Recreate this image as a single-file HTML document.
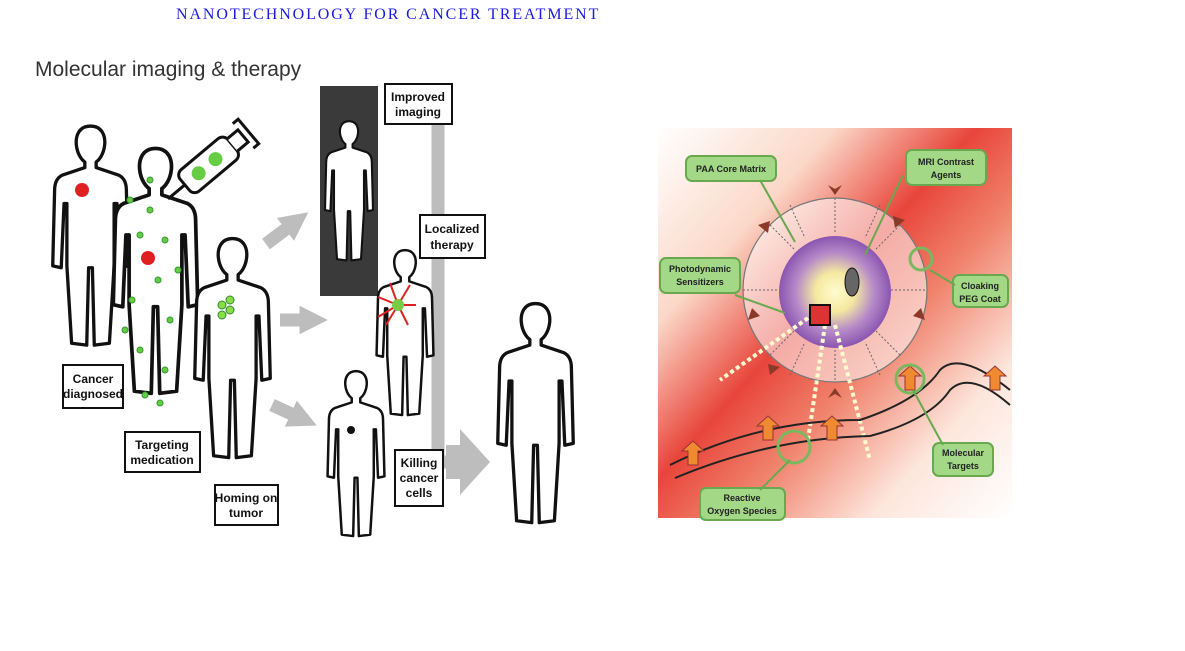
<!DOCTYPE html>
<html><head><meta charset="utf-8"><style>
body{margin:0;background:#fff;width:1185px;height:651px;overflow:hidden;position:relative}
.t{position:absolute;left:176px;top:6px;font:16px "Liberation Serif",serif;color:#1a1adf;letter-spacing:1.9px;white-space:nowrap}
</style></head><body>
<div class="t">NANOTECHNOLOGY FOR CANCER TREATMENT</div>
<svg width="1185" height="651" style="position:absolute;left:0;top:0">
<defs>
<symbol id="p" viewBox="-45 0 90 240" overflow="visible">
<path d="M0 2 C12 2 16 12 15 22 C14 32 9 38 6 40 L6 46 L30 54 Q38 58 38 70 L40 150 L31 152 L28 84 L25 84 L25 150 L20 232 L4 234 L2 152 L-2 152 L-4 234 L-20 232 L-25 150 L-25 84 L-28 84 L-31 152 L-40 150 L-38 70 Q-38 58 -30 54 L-6 46 L-6 40 C-9 38 -14 32 -15 22 C-16 12 -12 2 0 2 Z" fill="#fff" stroke="#111" stroke-width="3.5" stroke-linejoin="round"/>
</symbol>
<radialGradient id="core" cx="0.5" cy="0.5" r="0.5"><stop offset="0" stop-color="#fffbd0"/><stop offset="0.35" stop-color="#f5e9a0"/><stop offset="0.7" stop-color="#b58ac8"/><stop offset="1" stop-color="#8b55b0"/></radialGradient>
<linearGradient id="band" x1="0" y1="0" x2="1" y2="1"><stop offset="0" stop-color="#fff"/><stop offset="0.25" stop-color="#fbd8c8"/><stop offset="0.45" stop-color="#e8453a"/><stop offset="0.6" stop-color="#f0836d"/><stop offset="0.8" stop-color="#fde6dc"/><stop offset="1" stop-color="#fff"/></linearGradient>
<marker id="ah" viewBox="0 0 10 10" refX="2" refY="5" markerWidth="2.2" markerHeight="2.6" orient="auto"><path d="M0 0L10 5L0 10z" fill="#bdbdbd"/></marker>
</defs>
<text x="35" y="76" font-family="Liberation Sans,sans-serif" font-size="21" fill="#333">Molecular imaging &amp; therapy</text>
<g stroke="#bdbdbd" stroke-width="13" fill="none">
<path d="M438 125V462H450"/>
<path d="M266 244L290 226" marker-end="url(#ah)"/>
<path d="M280 320H305" marker-end="url(#ah)"/>
<path d="M272 405L296 416" marker-end="url(#ah)"/>
</g>
<path d="M446 445h14v-16l30 33-30 33v-16h-14z" fill="#bdbdbd"/>
<rect x="320" y="86" width="58" height="210" fill="#3a3a3a"/>
<use href="#p" x="322" y="92" width="54" height="200"/>
<circle cx="345" cy="170" r="5" fill="#fff"/>
<use href="#p" x="48" y="115" width="85" height="245"/>
<circle cx="82" cy="190" r="7" fill="#e02020"/>
<use href="#p" x="108" y="128" width="95" height="290"/>
<circle cx="148" cy="258" r="7" fill="#e02020"/>
<g fill="#6c4" stroke="#393">
<circle cx="130" cy="200" r="3"/><circle cx="150" cy="210" r="3"/><circle cx="165" cy="240" r="3"/><circle cx="140" cy="235" r="3"/><circle cx="158" cy="280" r="3"/><circle cx="132" cy="300" r="3"/><circle cx="170" cy="320" r="3"/><circle cx="140" cy="350" r="3"/><circle cx="165" cy="370" r="3"/><circle cx="145" cy="395" r="3"/><circle cx="125" cy="330" r="3"/><circle cx="178" cy="270" r="3"/><circle cx="150" cy="180" r="3"/><circle cx="160" cy="403" r="3"/>
</g>
<g transform="rotate(-40 210 165)"><rect x="178" y="150" width="62" height="28" rx="7" fill="#fff" stroke="#111" stroke-width="3"/><circle cx="196" cy="164" r="7" fill="#6c4"/><circle cx="218" cy="164" r="7" fill="#6c4"/><path d="M240 156h14v16h-14M254 148h7v32h-7M178 164h-22" stroke="#111" stroke-width="3" fill="#fff"/></g>
<use href="#p" x="190" y="205" width="85" height="290"/>
<g fill="#8d4" stroke="#383"><circle cx="222" cy="305" r="4"/><circle cx="230" cy="310" r="4"/><circle cx="222" cy="315" r="4"/><circle cx="230" cy="300" r="4"/></g>
<use href="#p" x="373" y="234" width="64" height="200"/>
<g stroke="#d22" stroke-width="2"><path d="M398 305l-20-8M398 305l-20 12M398 305l-8-22M398 305l12-20M398 305l18 0M398 305l10 20M398 305l-12 20"/></g>
<circle cx="398" cy="305" r="6" fill="#7c4"/>
<use href="#p" x="324" y="355" width="64" height="200"/>
<circle cx="351" cy="430" r="4" fill="#111"/>
<use href="#p" x="493" y="280" width="85" height="270"/>
<g font-family="Liberation Sans,sans-serif" font-size="12" font-weight="bold" text-anchor="middle" fill="#111">
<rect x="385" y="84" width="67" height="40" fill="#fff" stroke="#111" stroke-width="2"/><text x="418" y="101">Improved</text><text x="418" y="116">imaging</text>
<rect x="420" y="215" width="65" height="43" fill="#fff" stroke="#111" stroke-width="2"/><text x="452" y="233">Localized</text><text x="452" y="249">therapy</text>
<rect x="63" y="365" width="60" height="43" fill="#fff" stroke="#111" stroke-width="2"/><text x="93" y="383">Cancer</text><text x="93" y="398">diagnosed</text>
<rect x="125" y="432" width="75" height="40" fill="#fff" stroke="#111" stroke-width="2"/><text x="162" y="449">Targeting</text><text x="162" y="464">medication</text>
<rect x="215" y="485" width="63" height="40" fill="#fff" stroke="#111" stroke-width="2"/><text x="246" y="502">Homing on</text><text x="246" y="517">tumor</text>
<rect x="395" y="450" width="48" height="56" fill="#fff" stroke="#111" stroke-width="2"/><text x="419" y="467">Killing</text><text x="419" y="482">cancer</text><text x="419" y="497">cells</text>
</g>
<rect x="658" y="128" width="354" height="390" fill="url(#band)"/>
<circle cx="835" cy="290" r="92" fill="rgba(255,255,255,0.55)" stroke="#777" stroke-width="1.2"/>
<g stroke="#666" stroke-width="1" stroke-dasharray="2 2">
<path d="M835 198v36M835 346v36M743 290h36M891 290h36M770 225l25 25M900 225l-25 25M770 355l25-25M900 355l-25-25M790 205l15 33M880 205l-15 33M790 375l15-33M880 375l-15-33"/>
</g>
<circle cx="835" cy="292" r="56" fill="url(#core)"/>
<g stroke="#fffbd0" stroke-width="4" stroke-dasharray="4 3"><path d="M808 318L720 380M825 325L808 440M835 325L870 460"/></g>
<rect x="810" y="305" width="20" height="20" fill="#d33" stroke="#111" stroke-width="2"/>
<ellipse cx="852" cy="282" rx="7" ry="14" fill="#666" stroke="#111"/>
<path d="M670 465 Q760 420 860 420 Q920 400 940 370 Q960 350 1010 390" fill="none" stroke="#222" stroke-width="2"/>
<path d="M675 478 Q770 438 870 436 Q930 420 950 390 Q970 370 1010 405" fill="none" stroke="#222" stroke-width="2"/>
<g fill="#f08a30" stroke="#933"><path d="M763 440h10v-14h6l-11-10-11 10h6z"/><path d="M827 440h10v-14h6l-11-10-11 10h6z"/><path d="M688 465h10v-14h6l-11-10-11 10h6z"/><path d="M990 390h10v-14h6l-11-10-11 10h6z"/><path d="M905 390h10v-14h6l-11-10-11 10h6z"/></g>
<g fill="#8b3a2a"><path d="M828 185l7 10 7-10-7 4z"/><path d="M758 225l10 8 2-12z"/><path d="M905 220l-10 8-2-12z"/><path d="M748 320l12-4-8-8z"/><path d="M925 320l-12-4 8-8z"/><path d="M770 375l10-8-12-3z"/><path d="M828 398l7-10 7 10-7-4z"/></g>
<g fill="none" stroke="#7ab860" stroke-width="3"><circle cx="921" cy="259" r="11"/><circle cx="910" cy="379" r="14"/><circle cx="794" cy="447" r="16"/></g>
<g fill="#a2d886" stroke="#6aa850" stroke-width="2" font-family="Liberation Sans,sans-serif" font-size="9" font-weight="bold">
<rect x="686" y="156" width="90" height="25" rx="6"/><rect x="906" y="150" width="80" height="35" rx="6"/><rect x="660" y="258" width="80" height="35" rx="6"/><rect x="953" y="275" width="55" height="32" rx="6"/><rect x="933" y="443" width="60" height="33" rx="6"/><rect x="700" y="488" width="85" height="32" rx="6"/>
<path d="M760 180l35 62M903 175l-38 80M735 295l50 18M930 270l25 15M913 390l30 55M790 460l-30 30" fill="none"/>
</g>
<g font-family="Liberation Sans,sans-serif" font-size="9" font-weight="bold" fill="#222" text-anchor="middle">
<text x="731" y="172">PAA Core Matrix</text><text x="946" y="165">MRI Contrast</text><text x="946" y="178">Agents</text>
<text x="700" y="272">Photodynamic</text><text x="700" y="285">Sensitizers</text><text x="980" y="289">Cloaking</text><text x="980" y="302">PEG Coat</text>
<text x="963" y="456">Molecular</text><text x="963" y="469">Targets</text><text x="742" y="501">Reactive</text><text x="742" y="514">Oxygen Species</text>
</g>
</svg>
</body></html>
